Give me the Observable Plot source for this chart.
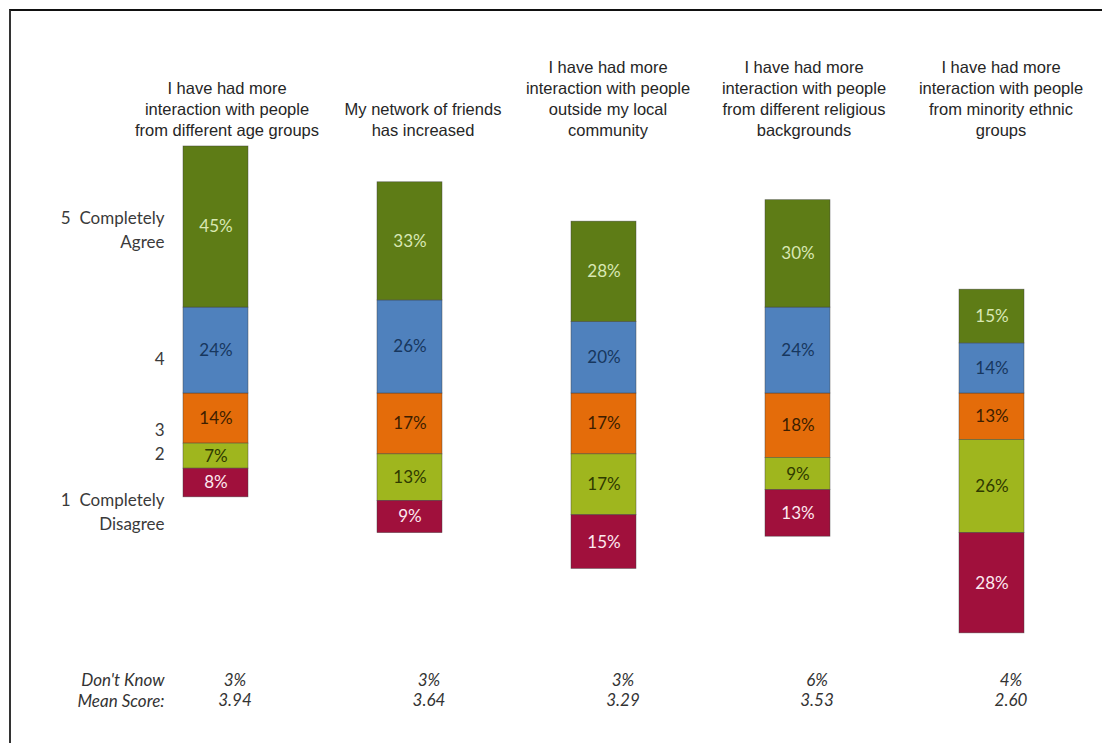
<!DOCTYPE html>
<html><head><meta charset="utf-8">
<script src="https://cdn.jsdelivr.net/npm/d3@7"></script>
<script src="https://cdn.jsdelivr.net/npm/@observablehq/plot@0.6"></script>
<style>
html,body{margin:0;padding:0;background:#fff;}
#wrap{position:relative;width:1102px;height:743px;overflow:hidden;}
#frame{position:absolute;left:9px;top:9px;right:-5px;bottom:-5px;border-top:2px solid #111;border-left:2px solid #333;pointer-events:none;}
#chart svg{display:block;}
</style></head><body>
<div id="wrap"><div id="chart"></div><div id="frame"></div></div>
<script>
// ---- data ----
const questions = [
  "I have had more\ninteraction with people\nfrom different age groups",
  "My network of friends\nhas increased",
  "I have had more\ninteraction with people\noutside my local\ncommunity",
  "I have had more\ninteraction with people\nfrom different religious\nbackgrounds",
  "I have had more\ninteraction with people\nfrom minority ethnic\ngroups"
];
const completelyAgree    = [45, 33, 28, 30, 15];
const agree              = [24, 26, 20, 24, 14];
const neutral            = [14, 17, 17, 18, 13];
const disagree           = [7, 13, 17, 9, 26];
const completelyDisagree = [8, 9, 15, 13, 28];
const dontKnow  = ["3%", "3%", "3%", "6%", "4%"];
const meanScore = ["3.94", "3.64", "3.29", "3.53", "2.60"];
const levelLabels = ["5\u00a0 Completely\nAgree", "4", "3", "2", "1\u00a0 Completely\nDisagree"];
const levelLabelPos = [46.1, 10.0, -9.8, -16.5, -32.7]; // in % units along the y axis
const rowLabels = ["Don't Know", "Mean Score:"];

// ---- styles ----
const barColor  = {"5": "#5e7c16", "4": "#4f81bd", "3": "#e46c0a", "2": "#9fb61e", "1": "#a0103c"};
const textColor = {"5": "#d9e8b4", "4": "#17375e", "3": "#3d1e00", "2": "#2f3a00", "1": "#fde9ef"};
const titleDx = [11, 13, 4, 6, 9];
const calibri = "Lato, 'Open Sans', sans-serif";
const arial = "'Liberation Sans', Arial, sans-serif";

// table: negatives stacked downward from 0 (3 nearest zero), positives upward (4 nearest zero)
const rows = [];
questions.forEach((q, i) => {
  rows.push({q, level: "3", v: -neutral[i]});
  rows.push({q, level: "2", v: -disagree[i]});
  rows.push({q, level: "1", v: -completelyDisagree[i]});
  rows.push({q, level: "4", v: agree[i]});
  rows.push({q, level: "5", v: completelyAgree[i]});
});

const zeroY = 393, pxPerPct = 3.58;
const italic = {fontSize: 17, fontStyle: "italic", fontFamily: calibri, fill: "#333", lineAnchor: "middle"};
const chart = Plot.plot({
  width: 1102, height: 743,
  marginTop: 0, marginRight: 0, marginBottom: 0, marginLeft: 0,
  x: {type: "band", domain: questions, range: [118, 1088], paddingInner: 0.665, paddingOuter: 0.3325, axis: null},
  y: {domain: [-100, 100], range: [zeroY + 100 * pxPerPct, zeroY - 100 * pxPerPct], axis: null},
  marks: [
    Plot.barY(rows, {x: "q", y: "v", fill: d => barColor[d.level], stroke: "#3a3a3a", strokeWidth: 0.7, strokeOpacity: 0.6}),
    Plot.text(rows, Plot.stackY({x: "q", y: "v", text: d => Math.abs(d.v) + "%", fill: d => textColor[d.level], fontSize: 17, fontFamily: calibri})),
    ...questions.map((q, i) => Plot.text([q], {x: d => d, text: d => d, frameAnchor: "top", dy: 135, dx: titleDx[i], lineAnchor: "bottom", fontSize: 16.5, lineHeight: 1.26, fontFamily: arial, fill: "#262626"})),
    Plot.text(levelLabels, {y: (d, i) => levelLabelPos[i], text: d => d, frameAnchor: "left", dx: 164, textAnchor: "end", fontSize: 17, lineHeight: 1.38, fontFamily: calibri, fill: "#3a3a3a"}),
    Plot.text([rowLabels[0]], {text: d => d, frameAnchor: "top-left", dx: 164, dy: 680, textAnchor: "end", ...italic}),
    Plot.text([rowLabels[1]], {text: d => d, frameAnchor: "top-left", dx: 164, dy: 701, textAnchor: "end", ...italic}),
    Plot.text(questions, {x: d => d, text: (d, i) => dontKnow[i], frameAnchor: "top", dy: 680, dx: 19, ...italic}),
    Plot.text(questions, {x: d => d, text: (d, i) => meanScore[i], frameAnchor: "top", dy: 700, dx: 19, ...italic})
  ]
});
document.getElementById("chart").appendChild(chart);
</script>
</body></html>
